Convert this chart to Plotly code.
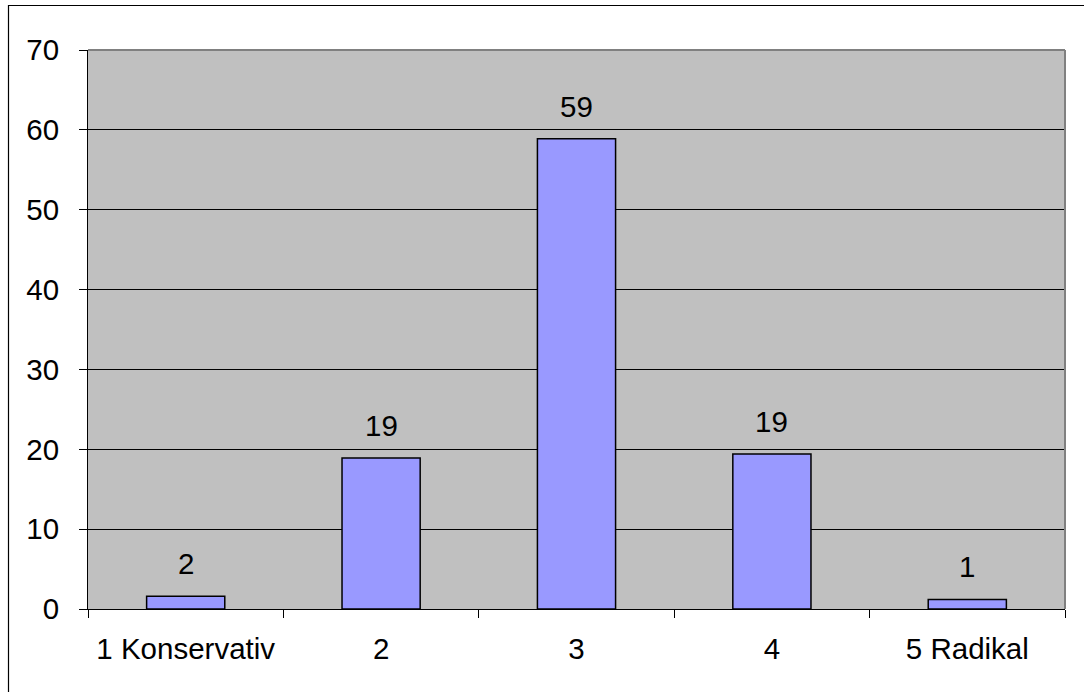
import plotly.graph_objects as go

# Survey answers on a 1 (conservative) to 5 (radical) scale, share in percent
categories = ["1 Konservativ", "2", "3", "4", "5 Radikal"]
shares = [1.6, 18.9, 58.9, 19.4, 1.2]
y_ticks = [0, 10, 20, 30, 40, 50, 60, 70]

W, H = 1084, 692
ML, MR, MT, MB = 88, 19, 50, 83
PW, PH = W - ML - MR, H - MT - MB

FONT = dict(family="Liberation Sans, Arial, sans-serif", size=29.5, color="black")

fig = go.Figure()
fig.add_trace(go.Bar(
    x=categories,
    y=shares,
    marker=dict(color="#9999FF", line=dict(color="black", width=1.5)),
    hoverinfo="skip",
))

# value labels above the bars, rounded to whole percent
# (category axis: annotations are placed by category index)
for i, v in enumerate(shares):
    fig.add_annotation(
        x=i, y=v, text=f"{v:.0f}", showarrow=False,
        yanchor="bottom", yshift=14, font=FONT,
    )

# grey frame around the plot area (top and right edges)
fig.add_shape(type="line", xref="paper", yref="paper", x0=0, x1=1, y0=1, y1=1,
              line=dict(color="#808080", width=2))
fig.add_shape(type="line", xref="paper", yref="paper", x0=1, x1=1, y0=0, y1=1,
              line=dict(color="#808080", width=2))

# outer chart border
fig.add_shape(type="rect", xref="paper", yref="paper",
              x0=(8.5 - ML) / PW, x1=(1095 - ML) / PW,
              y0=(MT + PH - 700) / PH, y1=(MT + PH - 5.5) / PH,
              line=dict(color="black", width=1.2), fillcolor="rgba(0,0,0,0)")

fig.update_layout(
    width=W, height=H,
    margin=dict(l=ML, r=MR, t=MT, b=MB),
    paper_bgcolor="white",
    plot_bgcolor="#C0C0C0",
    bargap=0.6,
    showlegend=False,
    font=FONT,
)
fig.update_xaxes(
    type="category",
    tickson="boundaries",
    ticks="outside", ticklen=8, tickcolor="black", tickwidth=1,
    showline=True, linecolor="black", linewidth=1,
    showgrid=False,
    tickfont=FONT,
    ticklabelstandoff=14,
)
fig.update_yaxes(
    range=[0, 70],
    tickvals=y_ticks,
    ticks="outside", ticklen=8, tickcolor="black", tickwidth=1,
    showline=True, linecolor="black", linewidth=1,
    showgrid=True, gridcolor="black", gridwidth=1,
    zeroline=False,
    tickfont=FONT,
    ticklabelstandoff=14,
)

fig.write_html("out.html")
